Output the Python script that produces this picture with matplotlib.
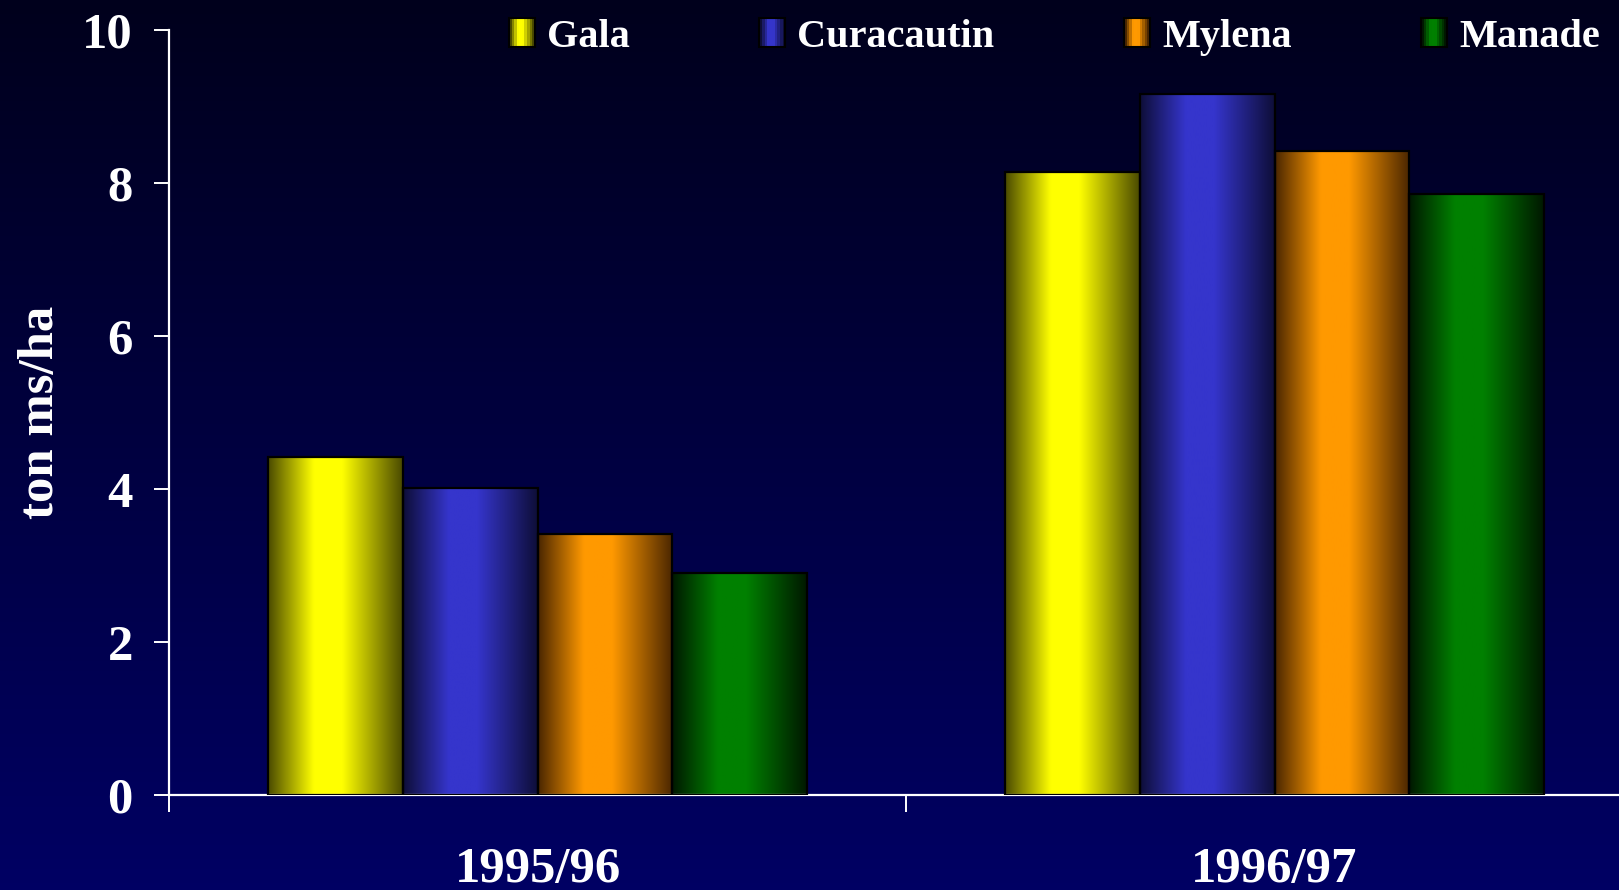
import numpy as np
import matplotlib
matplotlib.use("Agg")
import matplotlib.pyplot as plt
from matplotlib.patches import Rectangle
from matplotlib.legend_handler import HandlerBase
from matplotlib.colors import to_rgb

# ---------------- data ----------------
seasons = ["1995/96", "1996/97"]
varieties = ["Gala", "Curacautin", "Mylena", "Manade"]
gala = [4.42, 8.15]
curacautin = [4.02, 9.16]
mylena = [3.42, 8.42]
manade = [2.90, 7.86]
series = [gala, curacautin, mylena, manade]
y_ticks = [0, 2, 4, 6, 8, 10]
y_label = "ton ms/ha"

# ---------------- style ----------------
bright = ["#FFFF00", "#3535CC", "#FF9900", "#008000"]
dark = ["#4A4A00", "#0E0E38", "#4A2600", "#001800"]
FONT = "Liberation Serif"
W, H, DPI = 1619, 890, 100

fig = plt.figure(figsize=(W / DPI, H / DPI), dpi=DPI)

# background gradient
bg = fig.add_axes([0, 0, 1, 1], zorder=-10)
grad = np.linspace(0, 1, 256)[:, None]
top_c = np.array([0.0, 0.0, 0.11])
bot_c = np.array([0.0, 0.0, 0.39])
img = top_c[None, None, :] * (1 - grad[:, :, None]) + bot_c[None, None, :] * grad[:, :, None]
bg.imshow(img, aspect="auto", extent=[0, 1, 0, 1])
bg.set_axis_off()


def profile(n=200):
    t = np.linspace(0, 1, n)
    return np.interp(t, [0, 0.34, 0.55, 1.0], [0, 1, 1, 0])


def grad_colors(dk, br, n=200):
    f = profile(n)[:, None]
    d = np.array(to_rgb(dk))
    b = np.array(to_rgb(br))
    return d * (1 - f) + b * f


# main axes (extends past the right edge, like the original)
left_px, bottom_px, top_px = 169, 890 - 795.3, 30
cat_px = 737
ax = fig.add_axes([left_px / W, bottom_px / H, 2 * cat_px / W, (795.3 - top_px) / H])
ax.patch.set_alpha(0)

n = len(varieties)
bw = 0.1825
x = np.arange(len(seasons)) + 0.5
for i, (vals, dk, br) in enumerate(zip(series, dark, bright)):
    offs = (i - (n - 1) / 2) * bw
    bars = ax.bar(x + offs, vals, width=bw, facecolor="none",
                  edgecolor="#000000", linewidth=1.6, zorder=3, label=varieties[i])
    cols = grad_colors(dk, br)[None, :, :]
    for b in bars:
        x0, y0 = b.get_x(), b.get_y()
        ax.imshow(cols, aspect="auto", extent=[x0, x0 + b.get_width(), y0, y0 + b.get_height()],
                  zorder=2, interpolation="bilinear")

ax.set_xlim(0, 2)
ax.set_ylim(0, 10)

for s in ["top", "right"]:
    ax.spines[s].set_visible(False)
for s in ["left", "bottom"]:
    ax.spines[s].set_color("white")
    ax.spines[s].set_linewidth(1.6)

ax.set_yticks(y_ticks)
ax.set_yticklabels([str(v) for v in y_ticks])
ax.tick_params(axis="y", colors="white", length=11, width=1.4, direction="out", pad=15,
               labelsize=36.5)
ax.set_xticks([0, 1, 2])
ax.set_xticklabels([])
ax.tick_params(axis="x", which="major", colors="white", length=12, width=1.4, direction="out")
ax.set_xticks(x, minor=True)
ax.set_xticklabels(seasons, minor=True)
ax.tick_params(axis="x", which="minor", length=0, pad=37, labelsize=36.5, labelcolor="white")
for lab in ax.get_yticklabels() + ax.get_xticklabels(minor=True):
    lab.set_fontfamily(FONT)
    lab.set_fontweight("bold")
    lab.set_color("white")

fig.text(41 / W, 1 - 412.5 / H, y_label, rotation=90, ha="center", va="center",
         fontsize=36.5, fontweight="bold", family=FONT, color="white")


class GradHandler(HandlerBase):
    def __init__(self, dk, br):
        super().__init__()
        self.dk, self.br = dk, br

    def create_artists(self, legend, orig_handle, xdescent, ydescent, width, height,
                       fontsize, trans):
        m = 10
        cols = grad_colors(self.dk, self.br, m)
        arts = []
        for k in range(m):
            arts.append(Rectangle((-xdescent + k * width / m, -ydescent), width / m, height,
                                  facecolor=cols[k], edgecolor="none", transform=trans))
        arts.append(Rectangle((-xdescent, -ydescent), width, height, fill=False,
                              edgecolor="black", linewidth=1.5, transform=trans))
        return arts


handles = [Rectangle((0, 0), 1, 1) for _ in varieties]
hmap = {h: GradHandler(d, b) for h, d, b in zip(handles, dark, bright)}
leg = fig.legend(handles, varieties, handler_map=hmap, loc="center left",
                 bbox_to_anchor=(509 / W, 1 - 37 / H), ncol=4, frameon=False,
                 borderpad=0, borderaxespad=0, handlelength=0.64, handleheight=0.74,
                 handletextpad=0.3, columnspacing=3.22,
                 prop={"family": FONT, "weight": "bold", "size": 29})
for t in leg.get_texts():
    t.set_color("white")

fig.savefig("out.png", dpi=DPI)
